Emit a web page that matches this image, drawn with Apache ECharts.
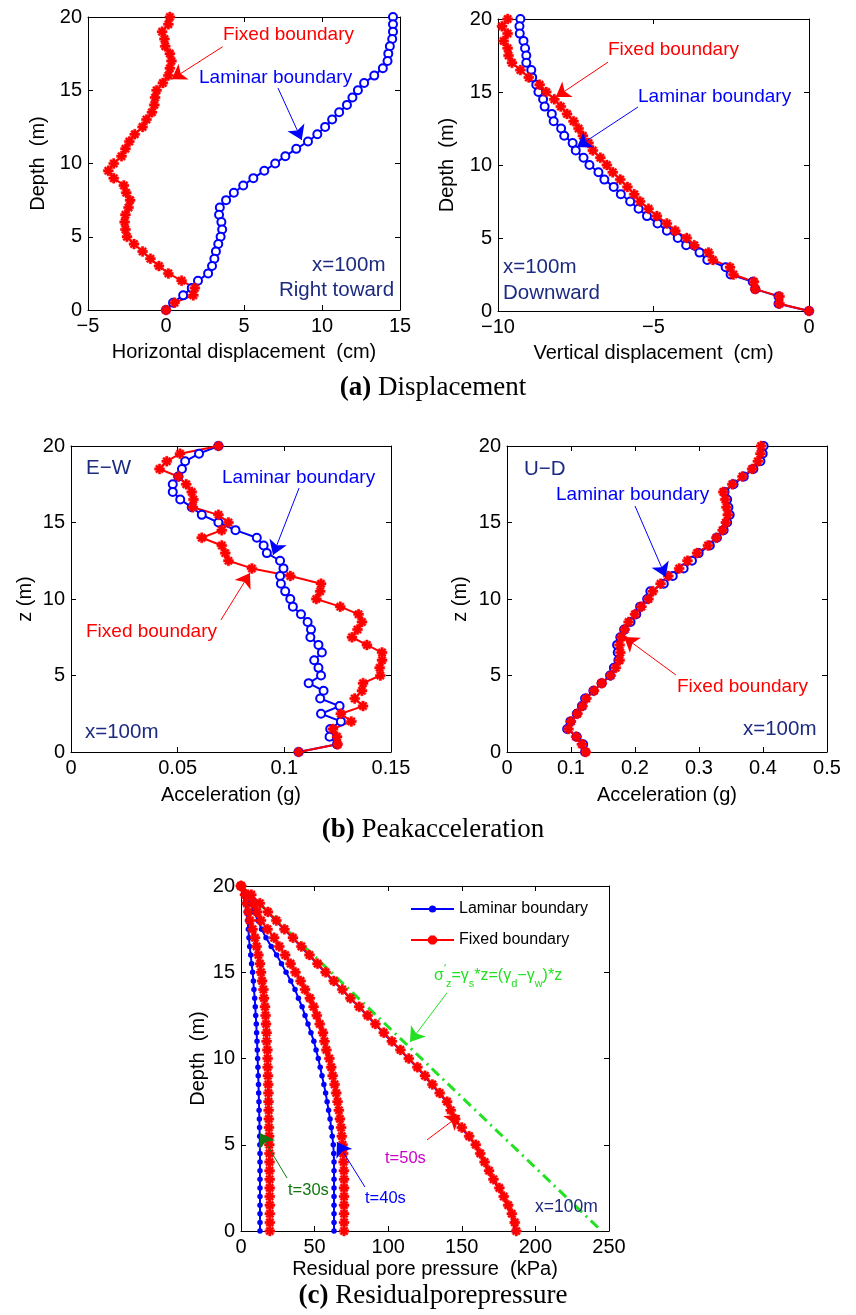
<!DOCTYPE html>
<html><head><meta charset="utf-8">
<script src="https://cdn.jsdelivr.net/npm/echarts@6/dist/echarts.min.js"></script>
<style>html,body{margin:0;padding:0;background:#fff}#c{width:856px;height:1315px}</style>
</head><body><div id="c"></div>
<script>
// ---------- data ----------
const depth = [20,19.5,19,18.5,18,17.5,17,16.5,16,15.5,15,14.5,14,13.5,13,12.5,12,11.5,11,10.5,10,9.5,9,8.5,8,7.5,7,6.5,6,5.5,5,4.5,4,3.5,3,2.5,2,1.5,1,0.5,0];

// (a) horizontal displacement (cm)
const hLam = [14.55,14.55,14.55,14.5,14.35,14.25,14.2,13.9,13.35,12.7,12.3,11.95,11.6,11.1,10.65,10.2,9.7,9.1,8.35,7.65,7.0,6.3,5.6,4.95,4.35,3.85,3.45,3.4,3.55,3.6,3.5,3.35,3.2,3.1,2.95,2.7,2.05,1.65,1.1,0.45,0];
const hFix = [0.25,0.15,-0.25,-0.1,-0.05,0.25,0.35,0.25,0.15,-0.2,-0.6,-0.7,-0.75,-0.9,-1.25,-1.5,-2.0,-2.35,-2.6,-2.85,-3.35,-3.7,-3.35,-2.7,-2.55,-2.3,-2.4,-2.6,-2.65,-2.6,-2.5,-2.05,-1.5,-1.0,-0.45,0.15,1.0,1.85,1.75,0.55,0];
// (a) vertical displacement (cm)
const vLam = [-9.28,-9.31,-9.3,-9.18,-9.13,-9.09,-9.09,-8.93,-8.9,-8.77,-8.7,-8.55,-8.5,-8.27,-8.21,-7.97,-7.87,-7.6,-7.5,-7.25,-7.06,-6.77,-6.58,-6.28,-6.05,-5.75,-5.48,-5.21,-4.87,-4.57,-4.22,-3.95,-3.52,-3.27,-2.68,-2.52,-1.81,-1.73,-0.98,-0.98,0];
const vFix = [-9.69,-9.87,-9.69,-9.82,-9.69,-9.66,-9.55,-9.28,-9.01,-8.66,-8.45,-8.19,-7.98,-7.78,-7.57,-7.41,-7.27,-7.09,-6.95,-6.71,-6.5,-6.31,-6.07,-5.84,-5.62,-5.43,-5.16,-4.89,-4.57,-4.3,-3.93,-3.69,-3.23,-3.09,-2.54,-2.43,-1.77,-1.73,-0.95,-0.95,0];
// (b) peak acceleration E-W (g)
const ewLam = [0.0691,0.060,0.0535,0.052,0.0503,0.0477,0.0477,0.0512,0.0566,0.0613,0.0691,0.0771,0.0871,0.0903,0.0918,0.098,0.0996,0.098,0.0984,0.1004,0.1028,0.104,0.1078,0.1109,0.1125,0.1122,0.116,0.1176,0.114,0.116,0.1172,0.1114,0.1184,0.1168,0.1259,0.1172,0.1265,0.1215,0.1212,0.1247,0.1067];
const ewFix = [0.0691,0.0511,0.0449,0.0415,0.0503,0.054,0.0566,0.0574,0.0571,0.0691,0.0738,0.0707,0.0613,0.0707,0.0723,0.0738,0.0848,0.1028,0.1172,0.1168,0.115,0.1262,0.1348,0.1364,0.1343,0.1317,0.1387,0.1458,0.1458,0.1447,0.145,0.1369,0.1364,0.133,0.1369,0.1265,0.1314,0.1228,0.1247,0.125,0.1067];
// (b) peak acceleration U-D (g)
const udLam = [0.401,0.3995,0.396,0.385,0.37,0.354,0.34,0.344,0.346,0.348,0.344,0.3385,0.328,0.317,0.2995,0.289,0.276,0.259,0.245,0.224,0.219,0.208,0.202,0.193,0.183,0.177,0.172,0.173,0.174,0.167,0.161,0.148,0.135,0.122,0.117,0.109,0.099,0.094,0.109,0.119,0.122];
const udFix = [0.397,0.396,0.392,0.383,0.368,0.352,0.338,0.341,0.343,0.345,0.342,0.337,0.327,0.314,0.297,0.282,0.269,0.252,0.24,0.228,0.221,0.21,0.2,0.19,0.184,0.179,0.176,0.177,0.176,0.17,0.162,0.148,0.136,0.124,0.118,0.11,0.1,0.096,0.108,0.117,0.123];
// (c) residual pore pressure (kPa)
const p30Lam = [0,1.6,2.7,3.8,4.5,5,5.4,5.9,6.6,7.2,7.9,8.4,8.8,9.3,9.7,10,10.4,10.6,10.9,11.1,11.3,11.5,11.7,11.9,12.0,12.2,12.3,12.5,12.6,12.7,12.8,12.9,12.9,12.9,12.9,12.9,12.9,12.9,12.9,12.9,12.9];
const p30Fix = [0,2.7,3.9,5,6.1,7.9,9.5,10.6,11.8,12.9,13.6,14.3,15.2,15.6,16.3,16.7,17,17.4,17.4,17.9,18.1,18.1,18.3,18.5,18.6,18.7,18.8,18.9,19,19.1,19.2,19.3,19.4,19.4,19.5,19.5,19.5,19.6,19.6,19.6,19.6];
const p40Lam = [0,3.5,6.5,9,11.5,14,17,20.5,24.2,27.5,30.6,33.8,36.7,39,41.5,43.5,45.5,47.5,49.5,51,52.5,53.8,55,56.3,57.5,58.5,59.5,60.5,61.3,62,62.7,63,63.2,63.2,63.2,63.2,63.2,63.2,63.2,63.2,63.2];
const p40Fix = [0,4.5,8,11,13.6,18,22.5,26,30,33.7,37,40.5,43.5,46.8,49.3,51.5,53.5,55.7,56.7,58,60,61.3,62.3,63.6,64.7,65.6,66.5,67.2,68,68.5,69,69.4,69.7,69.9,70,70,70,70,70,70,70];
const p50Lam = [0,6.5,12.5,18,23.5,29,35,40.5,46,51.5,57,62.5,68.5,74,80,85.5,91,96.5,102,108,113.5,119.5,124.5,129.5,134.5,139.5,142,145,149.5,154.5,159,162,165,168,171,175,178,181,183.5,185,186];
const p50Fix = [0,7,12.8,18.3,24,29.5,35.3,41,46.5,52,57.5,63,68.8,74.3,80.3,86,91.3,97,102.5,108.3,114,119.8,125,130,135,140,142.5,145.5,150,155,159.5,162.5,165.5,168.5,171.5,175.5,178.5,181.5,184,186,187];
// effective stress line sigma'_z
const effX = [0,245];
const effZ = [20,0];

// axis tick settings
const xMin = [-5,-10,0,0,0];
const xMax = [15,0,0.15,0.5,250];
const xStep = [5,5,0.05,0.1,50];
const xNames = ['Horizontal displacement  (cm)','Vertical displacement  (cm)','Acceleration (g)','Acceleration (g)','Residual pore pressure  (kPa)'];
const yNames = ['Depth  (m)','Depth  (m)','z (m)','z (m)','Depth  (m)'];

// ---------- styling / layout ----------
const SANS = '"Liberation Sans", Arial, sans-serif';
const SERIF = '"Liberation Serif", "Times New Roman", serif';
const BLUE = '#0000ff', RED = '#ff0000', NAVY = '#1c2a80', GREEN = '#22e022';
const STAR = 'path://M0 7.5L20 7.5L20 12.5L0 12.5Z M7.5 0L12.5 0L12.5 20L7.5 20Z M1.48 4.52L4.52 1.48L18.52 15.48L15.48 18.52Z M15.48 1.48L18.52 4.52L4.52 18.52L1.48 15.48Z';

const grids = [
  {left:88, top:17, width:312, height:293},
  {left:498, top:19, width:311, height:292},
  {left:71, top:446, width:320, height:306},
  {left:507, top:446, width:320, height:306},
  {left:241, top:886, width:368, height:345}
];
const xGap = [32,32,33,33,28];
const yGap = [40,41,36,37,33];

const fmt = v => String(v).replace('-', '\u2212');
const xAxes = [], yAxes = [];
grids.forEach((g, i) => {
  const common = {axisLine:{show:true, onZero:false, lineStyle:{color:'#000', width:1}},
    axisTick:{show:true, inside:true, length:5, lineStyle:{color:'#000'}},
    splitLine:{show:false}};
  xAxes.push(Object.assign({type:'value', gridIndex:i, position:'bottom', min:xMin[i], max:xMax[i], interval:xStep[i],
    name:xNames[i], nameLocation:'middle', nameGap:xGap[i],
    nameTextStyle:{color:'#000', fontSize:20, fontFamily:SANS},
    axisLabel:{show:true, color:'#000', fontSize:20, fontFamily:SANS, margin:6, formatter:fmt, showMinLabel:true, showMaxLabel:true}}, common));
  xAxes.push(Object.assign({type:'value', gridIndex:i, position:'top', min:xMin[i], max:xMax[i], interval:xStep[i],
    axisLabel:{show:false}}, common));
  yAxes.push(Object.assign({type:'value', gridIndex:i, position:'left', min:0, max:20, interval:5,
    name:yNames[i], nameLocation:'middle', nameGap:yGap[i], nameRotate:90,
    nameTextStyle:{color:'#000', fontSize:20, fontFamily:SANS},
    axisLabel:{show:true, color:'#000', fontSize:20, fontFamily:SANS, margin:6, formatter:fmt, showMinLabel:true, showMaxLabel:true}}, common));
  yAxes.push(Object.assign({type:'value', gridIndex:i, position:'right', min:0, max:20, interval:5,
    axisLabel:{show:false}}, common));
});

const pts = xs => xs.map((v, k) => [v, depth[k]]);
function lamSeries(name, xs, g, big, extra) {
  return Object.assign({name, type:'line', xAxisIndex:2*g, yAxisIndex:2*g, data:pts(xs),
    symbol: big ? 'emptyCircle' : 'circle', symbolSize: big ? 8 : 5.5, showSymbol:true, clip:false,
    lineStyle:{color:BLUE, width:2}, itemStyle:{color:BLUE, borderColor:BLUE, borderWidth: big ? 2.2 : 0},
    emphasis:{disabled:true}, animation:false}, extra || {});
}
function fixSeries(name, xs, g, extra) {
  return Object.assign({name, type:'line', xAxisIndex:2*g, yAxisIndex:2*g, data:pts(xs),
    symbol:STAR, symbolSize:10, showSymbol:true, clip:false,
    lineStyle:{color:RED, width:2}, itemStyle:{color:RED, borderColor:RED, borderWidth:0.4},
    emphasis:{disabled:true}, animation:false}, extra || {});
}
function arrows(list) {
  return {silent:true, symbol:['none','arrow'], symbolSize:14, animation:false,
    label:{show:false}, emphasis:{disabled:true},
    data: list.map(a => [{coord:a[0], lineStyle:{color:a[2], width:1, type:'solid'}, itemStyle:{color:a[2]}}, {coord:a[1]}])};
}

const series = [
  lamSeries('lamA1', hLam, 0, true, {markLine: arrows([
    [[3.63,17.97],[0.37,15.75],RED],
    [[7.18,15.15],[8.7,11.6],BLUE]])}),
  fixSeries('fixA1', hFix, 0),
  lamSeries('lamA2', vLam, 1, true, {markLine: arrows([
    [[-6.46,17.05],[-8.14,14.65],RED],
    [[-5.5,13.97],[-7.46,11.22],BLUE]])}),
  fixSeries('fixA2', vFix, 1),
  lamSeries('lamB1', ewLam, 2, true, {markLine: arrows([
    [[0.1069,17.25],[0.0947,12.88],BLUE],
    [[0.0703,8.63],[0.0839,11.7],RED]])}),
  fixSeries('fixB1', ewFix, 2),
  lamSeries('lamB2', udLam, 3, true, {markLine: arrows([
    [[0.2,16.08],[0.248,11.44],BLUE],
    [[0.264,5.03],[0.183,7.52],RED]])}),
  fixSeries('fixB2', udFix, 3),
  {name:'eff', type:'line', xAxisIndex:8, yAxisIndex:8, data: effX.map((v,k)=>[v, effZ[k]]),
    symbol:'none', lineStyle:{color:GREEN, width:3, type:[10,5,2,5]}, emphasis:{disabled:true}, animation:false, z:1,
    markLine: arrows([
      [[139.9,13.8],[114.8,10.96],GREEN],
      [[31.25,3.07],[12.9,5.68],'#117711'],
      [[84.2,2.55],[65.2,5.16],BLUE],
      [[126.4,5.28],[148.8,6.72],RED]])},
  lamSeries('Laminar boundary', p30Lam, 4, false),
  fixSeries('Fixed boundary', p30Fix, 4),
  lamSeries('Laminar boundary', p40Lam, 4, false),
  fixSeries('Fixed boundary', p40Fix, 4),
  lamSeries('Laminar boundary', p50Lam, 4, false),
  fixSeries('Fixed boundary', p50Fix, 4)
];

function txt(x, y, text, color, size) {
  return {type:'text', x, y, silent:true, z:100,
    style:{text, fill:color, font:size + 'px ' + SANS, align:'left', verticalAlign:'middle', textAlign:'left', textVerticalAlign:'middle'}};
}
function caption(y, letter, word) {
  return {type:'text', x:433, y, silent:true,
    style:{text:'{b|(' + letter + ')} ' + word, fill:'#000', font:'27px ' + SERIF,
      align:'center', verticalAlign:'middle', textAlign:'center', textVerticalAlign:'middle',
      rich:{b:{font:'bold 27px ' + SERIF, fill:'#000'}}}};
}

const graphic = [
  txt(223, 35, 'Fixed boundary', RED, 19),
  txt(199, 78, 'Laminar boundary', BLUE, 19),
  txt(312, 265, 'x=100m', NAVY, 20.5),
  txt(279, 290, 'Right toward', NAVY, 20.5),
  txt(608, 50, 'Fixed boundary', RED, 19),
  txt(638, 97, 'Laminar boundary', BLUE, 19),
  txt(503, 267, 'x=100m', NAVY, 20.5),
  txt(503, 293, 'Downward', NAVY, 20.5),
  txt(86, 468, 'E\u2212W', NAVY, 20.5),
  txt(222, 478, 'Laminar boundary', BLUE, 19),
  txt(86, 632, 'Fixed boundary', RED, 19),
  txt(85, 732, 'x=100m', NAVY, 20.5),
  txt(524, 469, 'U\u2212D', NAVY, 20.5),
  txt(556, 495, 'Laminar boundary', BLUE, 19),
  txt(677, 687, 'Fixed boundary', RED, 19),
  txt(743, 729, 'x=100m', NAVY, 20.5),
  txt(288, 1190, 't=30s', '#117711', 16.5),
  txt(365, 1198, 't=40s', BLUE, 16.5),
  txt(385, 1158, 't=50s', '#cc00cc', 16.5),
  txt(535, 1207, 'x=100m', NAVY, 17.5),
  {type:'text', x:434, y:976, silent:true, z:100,
    style:{text:'{n|\u03c3}{p|\u2032}{s|z}{n|=\u03b3}{s|s}{n|*z=(\u03b3}{s|d}{n|\u2212\u03b3}{s|w}{n|)*z}',
      fill:GREEN, font:'16px ' + SANS, align:'left', verticalAlign:'middle', textAlign:'left', textVerticalAlign:'middle',
      rich:{
        n:{fill:GREEN, fontSize:16, fontFamily:SANS, lineHeight:26, verticalAlign:'middle'},
        s:{fill:GREEN, fontSize:11, fontFamily:SANS, lineHeight:26, verticalAlign:'bottom'},
        p:{fill:GREEN, fontSize:11, fontFamily:SANS, lineHeight:26, verticalAlign:'top'}
      }}},
  caption(388, 'a', 'Displacement'),
  caption(830, 'b', 'Peakacceleration'),
  caption(1296, 'c', 'Residualporepressure')
];

const option = {
  backgroundColor:'#fff',
  animation:false,
  grid: grids.map(g => Object.assign({outerBoundsMode:'none', containLabel:false}, g)),
  xAxis: xAxes,
  yAxis: yAxes,
  legend: {show:true, orient:'vertical', left:410, top:901, itemWidth:43, itemHeight:9, itemGap:15, padding:0,
    data:['Laminar boundary','Fixed boundary'], selectedMode:false,
    textStyle:{color:'#000', fontSize:16, fontFamily:SANS}},
  series,
  graphic
};
const chart = echarts.init(document.getElementById('c'), null, {renderer:'canvas'});
chart.setOption(option);
</script>
</body></html>
